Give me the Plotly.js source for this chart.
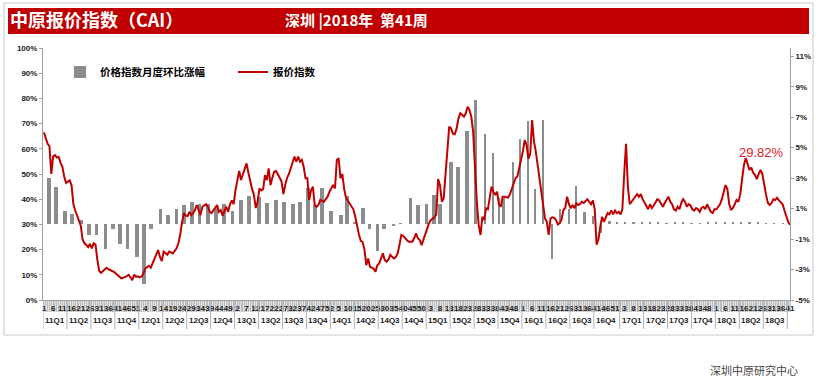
<!DOCTYPE html>
<html>
<head>
<meta charset="utf-8">
<script src="https://cdn.plot.ly/plotly-3.0.1.min.js"></script>
<style>
  html, body { margin: 0; padding: 0; background: #ffffff; }
  #chart { width: 822px; height: 378px; }
</style>
</head>
<body>
<div id="chart"></div>
<script>
// ---------------- DATA ----------------
// weeks per year shown on the axis (2011 ... 2018 week 41)
const yearWeeks = [52, 52, 52, 52, 52, 53, 52, 41];

// 报价指数 (weekly, %)
const line2011 = [66.5,64,62,61,50,57,57.5,56.5,56.8,54.5,53,49,46.5,47,47.5,45.5,38,35.5,33.5,31.5,29.5,24,22.5,21.8,21,22.3,20.5,22.5,22,16,11.5,10.8,11.5,12,12.8,12.2,12,11.5,11.2,10.6,10,9.2,8.6,8.8,9,9.5,10,9,7.9,10.1,9.2,9.4];
const line2012 = [9.0,9.3,10.5,12.5,13.2,13.6,12.8,14.5,16.5,18.5,19.8,17,15.5,19.2,18.5,18,19.2,18.8,18.5,19.5,20.5,22.5,26,31,34.4,33.5,33.3,35,33.7,34.5,35.7,37.7,36,33.7,37,37.5,38,37,35,34.5,35.5,36.5,37.7,35,35.7,33.5,35.5,37,35,38,39.5,38];
const line2013 = [43.6,47,51.2,47.6,50,52.5,54.2,50.5,47,44,41.7,36.5,39,44.3,43.5,44,49.6,47.6,52.2,45.6,48.5,50.9,51.2,50,48.5,47,42,45.6,48.5,50,52.2,55,56.9,54.9,56.9,54.9,55.6,52.9,48.3,48.3,39.7,43.5,45,37.7,37,37.7,39.7,39.3,39,40,41,43];
const line2014 = [44.3,45.6,44.3,55.6,56.2,48.3,50,44,40.5,39.5,38.5,37.5,36,33,29,26,23.5,23,20,13.8,16.5,13.2,12.8,12.4,11.2,13.8,14.5,17,18.5,15.9,15.2,16,17.9,17.2,16.5,17,18.5,21.8,25.8,25.5,24.5,23.8,23.1,23,23.1,24.5,26.5,24.5,23.8,21.8,24,26];
const line2015 = [28,30.4,31.7,32.4,32.8,34,48,45.6,39,40.3,50.3,62.8,68.8,68.1,66,65.8,68,72,74.1,73.5,72.8,74.1,76.7,75.4,72.7,66.8,50.9,39,29.8,25.8,33,31.7,36.4,36,40.5,45,43,41.7,43,38,37,41,41,40.8,40.6,42,44,45.6,48.3,49,52,56];
const line2016 = [59,63.5,61.5,56,58,71.4,63,59,54,49,42,37,32.4,31,25.8,32.4,32.8,32.6,31.7,30,30.5,32,35.7,36.6,41,38,36.4,37.7,36.4,38.4,37.7,38,39,38.5,39.5,40,39,38,39.5,36,22,24,29,33,31,33,34.5,34,35.5,34,35.5,34.5,35];
const line2017 = [34,36,50,62,45,38,39,40,41,42,41,42,40,38.5,37,36,38,36.5,37.5,39,40,39.5,38,37,38.5,40,41,39,38,36,35.5,37,36,38.5,40,39,37,38,37.5,36,35.5,36.5,36,35,36.5,37,36,38,36.5,35,34.5,36];
const line2018 = [36,37,38,40,43,45.6,44,38,35.7,36.5,38,39.7,39,42,48,53.6,56.3,54,51.6,52.5,50.5,49.6,48,50,51.6,50,45,41.7,38.5,37.7,38.5,40,39.7,40.5,39.5,38.5,38,35.5,33,31,29.82];

// 价格指数月度环比涨幅 (monthly, %), positioned at week index
const barWeek = [2.7,6.6,11.4,15.4,20.3,24.6,28.6,33.5,37.5,41.4,45.4,50.5,
  54.5,58.3,63.2,67.3,72,76,80.2,84.5,89,93.5,97.9,102.4,
  106.9,111.5,116.7,121.2,126.1,130.3,135.2,139.1,143.2,147.1,150.9,156,
  161.1,164.7,169,173.2,176.8,181,184.7,189.8,193.6,199,202.9,207.6,
  211.7,215,221,224.8,229.6,234.3,239.6,243.9,247,249.5,254.6,258.5,
  262.9,266.7,270.9,275.8,280.1,285,289,293.5,298,302.5,307,311,
  315.5,320,324.5,329,333.5,338,342.5,347,351.5,356,360.5,
  365,369.5,374,378.5,383,387.5,392,396.5,401];
const barValue = [3.03,2.41,0.84,0.62,0.25,-0.73,-0.73,-1.67,-0.36,-1.3,-1.67,-2.2,
  -3.97,-0.36,1.0,0.58,1.0,1.23,1.46,1.28,1.32,1.1,1.28,0.84,
  1.54,1.82,1.76,1.39,1.56,1.43,1.32,1.43,2.33,1.23,2.33,0.84,
  0.58,1.8,0.1,1.06,-0.36,-1.78,-0.36,-0.14,0.05,1.67,1.21,1.32,
  1.9,1.3,4.08,3.73,6.09,8.16,5.9,4.67,1.72,1.7,4.08,5.6,
  6.74,2.26,6.79,-2.33,1.0,1.0,2.48,0.8,0.5,-0.6,0.2,0.1,
  0.1,0.15,0.1,0.1,0.1,0.05,0.1,0.1,0.05,0.05,0.1,
  0.1,0.15,0.1,0.15,0.1,0.1,0.05,0.05,0.05];

// week-number tick labels (every 5th week)
const weekTickLabels = [1,6,11,16,21,26,31,36,41,46,51, 4,9,14,19,24,29,34,39,44,49,
  2,7,12,17,22,27,32,37,42,47,52, 5,10,15,20,25,30,35,40,45,50,
  3,8,13,18,23,28,33,38,43,48, 1,6,11,16,21,26,31,36,41,46,51,
  3,8,13,18,23,28,33,38,43,48, 1,6,11,16,21,26,31,36,41];
const quarterLabels = ['11Q1','11Q2','11Q3','11Q4','12Q1','12Q2','12Q3','12Q4','13Q1','13Q2','13Q3','13Q4',
  '14Q1','14Q2','14Q3','14Q4','15Q1','15Q2','15Q3','15Q4','16Q1','16Q2','16Q3','16Q4',
  '17Q1','17Q2','17Q3','17Q4','18Q1','18Q2','18Q3'];
const rightTickVals = [-5, -3, -1, 1, 3, 5, 7, 9, 11];
const rightTickText = ['-5%', '-3%', '-1%', '1%', '3%', '5%', '7%', '9%', '11%'];

const seriesNames = ['价格指数月度环比涨幅', '报价指数'];
const titleLeft = '中原报价指数（CAI）';
const titleRight = '深圳 |2018年  第41周';
const sourceText = '深圳中原研究中心';

// ---------------- BUILD ----------------
const lineValues = [].concat(line2011, line2012, line2013, line2014, line2015, line2016, line2017, line2018);
const weekIndex = lineValues.map((_, i) => i);
const tickVals = weekTickLabels.map((_, i) => i * 5);

const yearStart = [];
let acc = 0;
yearWeeks.forEach(n => { yearStart.push(acc); acc += n; });

const qCenters = [], qBounds = [];
quarterLabels.forEach((lab, i) => {
  const y = Math.floor(i / 4), q = i % 4;
  const s = yearStart[y] + 13 * q;
  qCenters.push(s + 6);
  qBounds.push(s - 0.5);
  if (i === quarterLabels.length - 1) qBounds.push(s + 12.5);
});

// pixel helpers for paper coordinates
const M = {l: 43, r: 32, t: 48, b: 78};
const W = 822, H = 378;
const PW = W - M.l - M.r, PH = H - M.t - M.b;
const px = x => (x - M.l) / PW;
const py = y => (H - M.b - y) / PH;

const tickFont = {family: 'Liberation Sans Narrow, Liberation Sans, Arial, sans-serif', size: 8, color: '#222222', weight: 'bold'};
const cjk = 'Noto Sans CJK SC, sans-serif';

const traces = [
  {
    type: 'bar', name: seriesNames[0],
    x: barWeek, y: barValue,
    width: barWeek.map(w => (w < 231 ? 2.0 : 1.2)),
    marker: {color: '#8C8C8C', line: {width: 0}},
    yaxis: 'y', xaxis: 'x',
    hoverinfo: 'skip'
  },
  {
    type: 'scatter', mode: 'lines', name: seriesNames[1],
    x: weekIndex, y: lineValues,
    line: {color: '#C00000', width: 2},
    yaxis: 'y2', xaxis: 'x',
    hoverinfo: 'skip'
  }
];

const shapes = [
  {type: 'rect', xref: 'paper', yref: 'paper', x0: px(4), x1: px(813), y0: py(335), y1: py(3),
   line: {color: '#C8C8C8', width: 1}, fillcolor: 'rgba(0,0,0,0)', layer: 'below'},
  {type: 'rect', xref: 'paper', yref: 'paper', x0: px(8), x1: px(809), y0: py(34), y1: py(8),
   line: {width: 0}, fillcolor: '#C00000', layer: 'below'},
  {type: 'rect', xref: 'paper', yref: 'paper', x0: 0, x1: 1, y0: py(312), y1: py(300),
   line: {width: 0}, fillcolor: '#E2E2E2', layer: 'below'}
];
qBounds.forEach(b => {
  shapes.push({type: 'line', xref: 'x', yref: 'paper', x0: b, x1: b, y0: py(300), y1: py(329),
    line: {color: '#A9B4C2', width: 1}});
});

const annotations = [
  {xref: 'paper', yref: 'paper', x: px(283), y: py(20.5), xanchor: 'left', yanchor: 'middle',
   text: titleRight, showarrow: false, font: {family: cjk, size: 15, color: '#FFFFFF', weight: 'bold'}},
  {xref: 'x', yref: 'y2', x: 389.5, y: 58.7, xanchor: 'center', yanchor: 'middle',
   text: lineValues[lineValues.length - 1].toFixed(2) + '%', showarrow: false,
   font: {family: 'Liberation Sans, Arial, sans-serif', size: 13, color: '#E0202A'}},
  {xref: 'paper', yref: 'paper', x: px(754), y: py(370), xanchor: 'center', yanchor: 'middle',
   text: sourceText, showarrow: false, font: {family: cjk, size: 11, color: '#444444'}}
];
quarterLabels.forEach((lab, i) => {
  annotations.push({xref: 'x', yref: 'paper', x: qCenters[i], y: py(320), xanchor: 'center', yanchor: 'middle',
    text: lab, showarrow: false, font: tickFont});
});

const layout = {
  width: W, height: H,
  margin: M,
  paper_bgcolor: '#FFFFFF', plot_bgcolor: 'rgba(0,0,0,0)',
  title: {text: titleLeft, xref: 'container', yref: 'container', x: 10 / W, xanchor: 'left',
          y: 1 - 20.5 / H, yanchor: 'middle', font: {family: cjk, size: 18, color: '#FFFFFF', weight: 'bold'}},
  showlegend: true,
  legend: {orientation: 'h', x: px(60), y: py(72), xanchor: 'left', yanchor: 'middle',
           font: {family: cjk, size: 10.5, color: '#000000', weight: 'bold'},
           bgcolor: 'rgba(0,0,0,0)', entrywidth: 128, traceorder: 'normal', itemclick: false},
  bargap: 0,
  xaxis: {
    range: [-0.5, 405], showgrid: false, zeroline: false,
    showline: true, linecolor: '#A0A0A0', linewidth: 1,
    tickmode: 'array', tickvals: tickVals, ticktext: weekTickLabels.map(String),
    ticks: '', tickangle: 0, tickfont: tickFont,
    minor: {tickmode: 'linear', tick0: 0, dtick: 1, ticks: 'outside', ticklen: 11, tickcolor: '#BDBDBD', tickwidth: 1, showgrid: false}
  },
  yaxis: {
    side: 'right', range: [-5, 11.54], tickmode: 'array',
    tickvals: rightTickVals, ticktext: rightTickText,
    showgrid: false, zeroline: false, showline: true, linecolor: '#A0A0A0', linewidth: 1,
    ticks: 'outside', ticklen: 3, tickcolor: '#A0A0A0', tickfont: tickFont
  },
  yaxis2: {
    overlaying: 'y', side: 'left', range: [0, 100], dtick: 10, tick0: 0, ticksuffix: '%',
    showgrid: false, zeroline: false, showline: true, linecolor: '#A0A0A0', linewidth: 1,
    ticks: 'outside', ticklen: 3, tickcolor: '#A0A0A0', tickfont: tickFont
  },
  shapes: shapes,
  annotations: annotations
};

Plotly.newPlot('chart', traces, layout, {staticPlot: true, displayModeBar: false});
</script>
</body>
</html>
